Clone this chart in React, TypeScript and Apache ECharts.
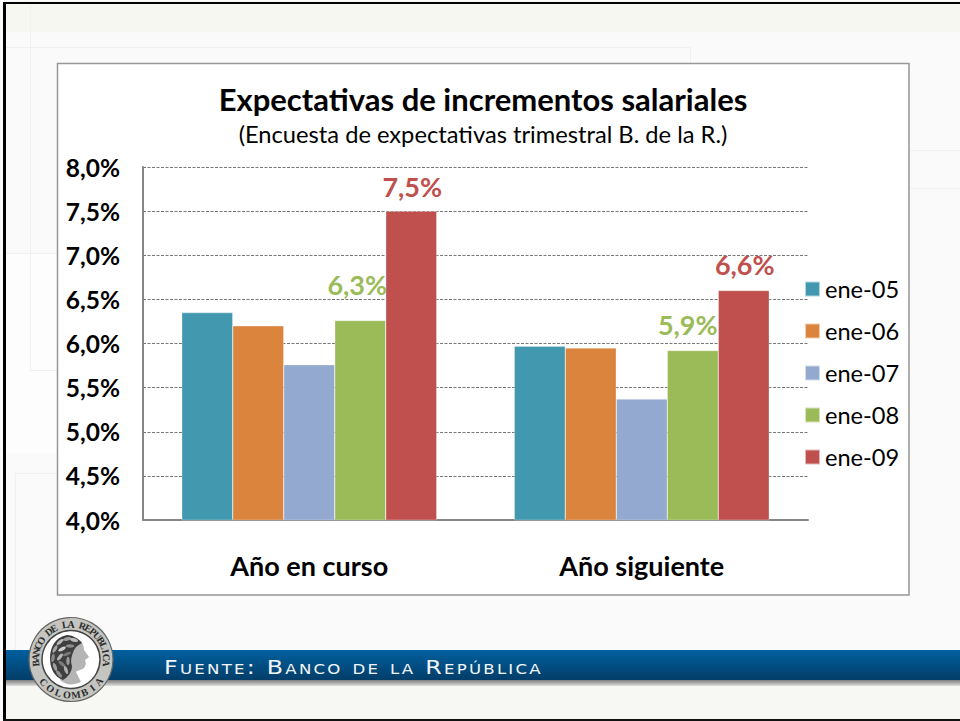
import React, { useEffect, useRef } from "react";
import * as echarts from "echarts";

const categories = ["Año en curso", "Año siguiente"];
const seriesNames = ["ene-05", "ene-06", "ene-07", "ene-08", "ene-09"];
const ene05 = [6.35, 5.97];
const ene06 = [6.2, 5.95];
const ene07 = [5.76, 5.37];
const ene08 = [6.26, 5.92];
const ene09 = [7.5, 6.6];
const seriesValues = [ene05, ene06, ene07, ene08, ene09];
const colors = ["#4198AF", "#DB843D", "#93A9CF", "#9BBB59", "#BF504D"];
const titleText = "Expectativas de incrementos salariales";
const subtitleText = "(Encuesta de expectativas trimestral B. de la R.)";
const sourceText = "Fuente: Banco de la República";
const sealTop = "BANCO DE LA REPUBLICA";
const sealBottom = "COLOMBIA";
const leaves = [
  [60, 642, -40, "#b9b9b9"], [67, 639, -15, "#9d9d9d"], [74, 640, 15, "#bdbdbd"],
  [55, 649, -60, "#a5a5a5"], [62, 649, -30, "#d0d0d0"], [70, 646, 0, "#8e8e8e"],
  [53, 658, -80, "#8a8a8a"], [60, 657, -50, "#b5b5b5"], [67, 654, -20, "#777"],
  [55, 667, 70, "#a0a0a0"], [62, 664, 40, "#7c7c7c"], [68, 661, 90, "#9a9a9a"],
  [59, 674, 50, "#909090"], [66, 670, 70, "#b0b0b0"],
];

const FONT = "Lato, Carlito, 'Open Sans', sans-serif";

const fmt = (v: number) => v.toFixed(1).replace(".", ",") + "%";

echarts.graphic.registerShape(
  "sealFace",
  echarts.graphic.extendPath(
    "M66 638 L76 638 C82 640 84 646 84 650 L89 657 L85 660 L86 664 L84 668 C80 671 77 670 76 672 L81 682 C72 686 66 685 60 680 Z",
    {}
  )
);
echarts.graphic.registerShape(
  "sealHair",
  echarts.graphic.extendPath(
    "M67 635 C55 637 50 648 50 658 C50 668 54 677 63 680 C68 677 72 672 72 666 C70 660 72 655 74 650 C76 646 80 644 82 643 C78 638 72 635 67 635 Z",
    {}
  )
);

function arcLetters(text: string, cx: number, cy: number, r: number, startDeg: number, stepDeg: number, bottom: boolean) {
  return text.split("").map((ch, i) => {
    const a = ((startDeg + i * stepDeg) * Math.PI) / 180;
    return {
      type: "text",
      z: 62,
      x: cx + r * Math.sin(a),
      y: cy - r * Math.cos(a),
      rotation: bottom ? Math.PI - a : -a,
      silent: true,
      style: {
        text: ch,
        fill: "#2b2b2b",
        font: "bold 10px 'Liberation Serif'",
        align: "center",
        verticalAlign: "middle",
      },
    };
  });
}

const line = (x1: number, y1: number, x2: number, y2: number, stroke = "#f0f0f0") => ({
  type: "line",
  z: 1,
  shape: { x1, y1, x2, y2 },
  style: { stroke, lineWidth: 1 },
  silent: true,
});
const rect = (x: number, y: number, width: number, height: number, fill: any, z = 0) => ({
  type: "rect",
  z,
  shape: { x, y, width, height },
  style: { fill },
  silent: true,
});

const option: any = {
  animation: false,
  backgroundColor: "#fafafa",
  textStyle: { fontFamily: FONT },
  title: {
    text: titleText,
    subtext: subtitleText,
    left: 483,
    top: 83,
    textAlign: "center",
    itemGap: 8,
    padding: 0,
    textStyle: { fontFamily: FONT, fontSize: 31, fontWeight: "bold", color: "#000" },
    subtextStyle: { fontFamily: FONT, fontSize: 23.7, color: "#000" },
  },
  grid: { left: 143, top: 167, width: 665, height: 353 },
  legend: {
    data: seriesNames,
    orient: "vertical",
    left: 804,
    top: 277,
    padding: 0,
    itemWidth: 15,
    itemHeight: 15,
    itemGap: 18,
    icon: "rect",
    selectedMode: false,
    textStyle: { fontFamily: FONT, fontSize: 23.6, color: "#000" },
  },
  xAxis: {
    type: "category",
    z: 5,
    data: categories,
    axisLine: { lineStyle: { color: "#868686", width: 2 } },
    axisTick: { show: false },
    axisLabel: { fontFamily: FONT, fontSize: 27, fontWeight: "bold", color: "#000", margin: 32 },
  },
  yAxis: {
    type: "value",
    z: 5,
    min: 4,
    max: 8,
    interval: 0.5,
    axisLine: { show: true, lineStyle: { color: "#868686", width: 2 } },
    axisTick: { show: false },
    axisLabel: { fontFamily: FONT, fontSize: 24.5, fontWeight: "bold", color: "#000", margin: 23, formatter: fmt },
    splitLine: { lineStyle: { color: "#777", type: [3, 1.5], width: 1 } },
  },
  series: seriesNames.map((name, si) => ({
    name,
    type: "bar",
    z: 6,
    data: seriesValues[si].map((value, ci) => {
      const showLabel = si >= 3;
      const offsets: any = { "3-0": [-3, -12], "3-1": [-5, -2], "4-0": [1, 0], "4-1": [1, -2] };
      return {
        value,
        label: showLabel
          ? {
              show: true,
              position: "top",
              distance: 11,
              offset: offsets[`${si}-${ci}`],
              formatter: (p: any) => fmt(p.value),
              fontFamily: FONT,
              fontSize: 27,
              fontWeight: "bold",
              color: colors[si],
            }
          : { show: false },
      };
    }),
    barWidth: 51,
    barGap: 0,
    itemStyle: { color: colors[si], borderColor: "rgba(255,255,255,0.6)", borderWidth: 0.5 },
  })),
  graphic: [
    rect(6, 4, 954, 28, "#f7f7f2"),
    rect(6, 685, 954, 35, "#f7f7f3"),
    rect(6, 254, 51, 200, "#fdfdfd"),
    line(6, 47.5, 690, 47.5),
    line(30.5, 4, 30.5, 370),
    line(30, 370.5, 57, 370.5),
    line(6, 253.5, 57, 253.5),
    line(15.5, 473, 15.5, 650),
    line(15, 473.5, 57, 473.5),
    line(690.5, 47, 690.5, 64),
    line(909, 150.5, 960, 150.5),
    line(909, 188.5, 960, 188.5),
    {
      type: "rect",
      z: 2,
      shape: { x: 57.5, y: 63.5, width: 851.5, height: 531.5 },
      style: { fill: "#fff", stroke: "#979797", lineWidth: 1.5 },
      silent: true,
    },
    {
      type: "rect",
      z: 3,
      shape: { x: 6, y: 680, width: 954, height: 6 },
      style: {
        fill: new echarts.graphic.LinearGradient(0, 0, 0, 1, [
          { offset: 0, color: "#7d7d7d" },
          { offset: 1, color: "#dedede" },
        ]),
      },
      silent: true,
    },
    {
      type: "rect",
      z: 4,
      shape: { x: 6, y: 650, width: 954, height: 30 },
      style: {
        fill: new echarts.graphic.LinearGradient(0, 0, 0, 1, [
          { offset: 0, color: "#00609f" },
          { offset: 1, color: "#033d68" },
        ]),
      },
      silent: true,
    },
    {
      type: "text",
      z: 10,
      x: 164,
      y: 667,
      scaleX: 1.25,
      style: {
        text: sourceText,
        fill: "#f2f6fa",
        font: "small-caps 19px 'DejaVu Sans'",
        align: "left",
        verticalAlign: "middle",
      },
      silent: true,
    },
    { type: "circle", z: 60, shape: { cx: 71, cy: 659.5, r: 42 }, style: { fill: "#c4c4c0", stroke: "#666", lineWidth: 1.2 }, silent: true },
    { type: "circle", z: 61, shape: { cx: 71, cy: 659.5, r: 29 }, style: { fill: "#fff", stroke: "#444", lineWidth: 1.5 }, silent: true },
    ...arcLetters(sealTop, 71, 659.5, 35.5, -96, 9.6, false),
    ...arcLetters(sealBottom, 71, 659.5, 35.5, 230, -14.5, true),
    { type: "sealFace", z: 63, style: { fill: "#b4b4b4" }, silent: true },
    { type: "sealHair", z: 64, style: { fill: "#3f3f3f" }, silent: true },
    ...leaves.map((l: any, i) => ({
      type: "ellipse",
      z: 65 + i / 100,
      x: l[0],
      y: l[1],
      rotation: (-l[2] * Math.PI) / 180,
      shape: { cx: 0, cy: 0, rx: 4.2, ry: 1.7 },
      style: { fill: l[3] },
      silent: true,
    })),
    rect(3, 2, 3, 719, "#000", 70),
    rect(3, 2, 957, 2, "#000", 70),
    rect(3, 719, 957, 2, "#111", 70),
  ],
};

export default function App() {
  const ref = useRef<HTMLDivElement>(null);
  useEffect(() => {
    const chart = echarts.init(ref.current!, undefined, { renderer: "svg" });
    chart.setOption(option);
    return () => chart.dispose();
  }, []);
  return (
    <>
      <style>{`svg text[style*="small-caps"]{letter-spacing:1.8px}`}</style>
      <div ref={ref} style={{ position: "absolute", left: 0, top: 0, width: 960, height: 721 }} />
    </>
  );
}
